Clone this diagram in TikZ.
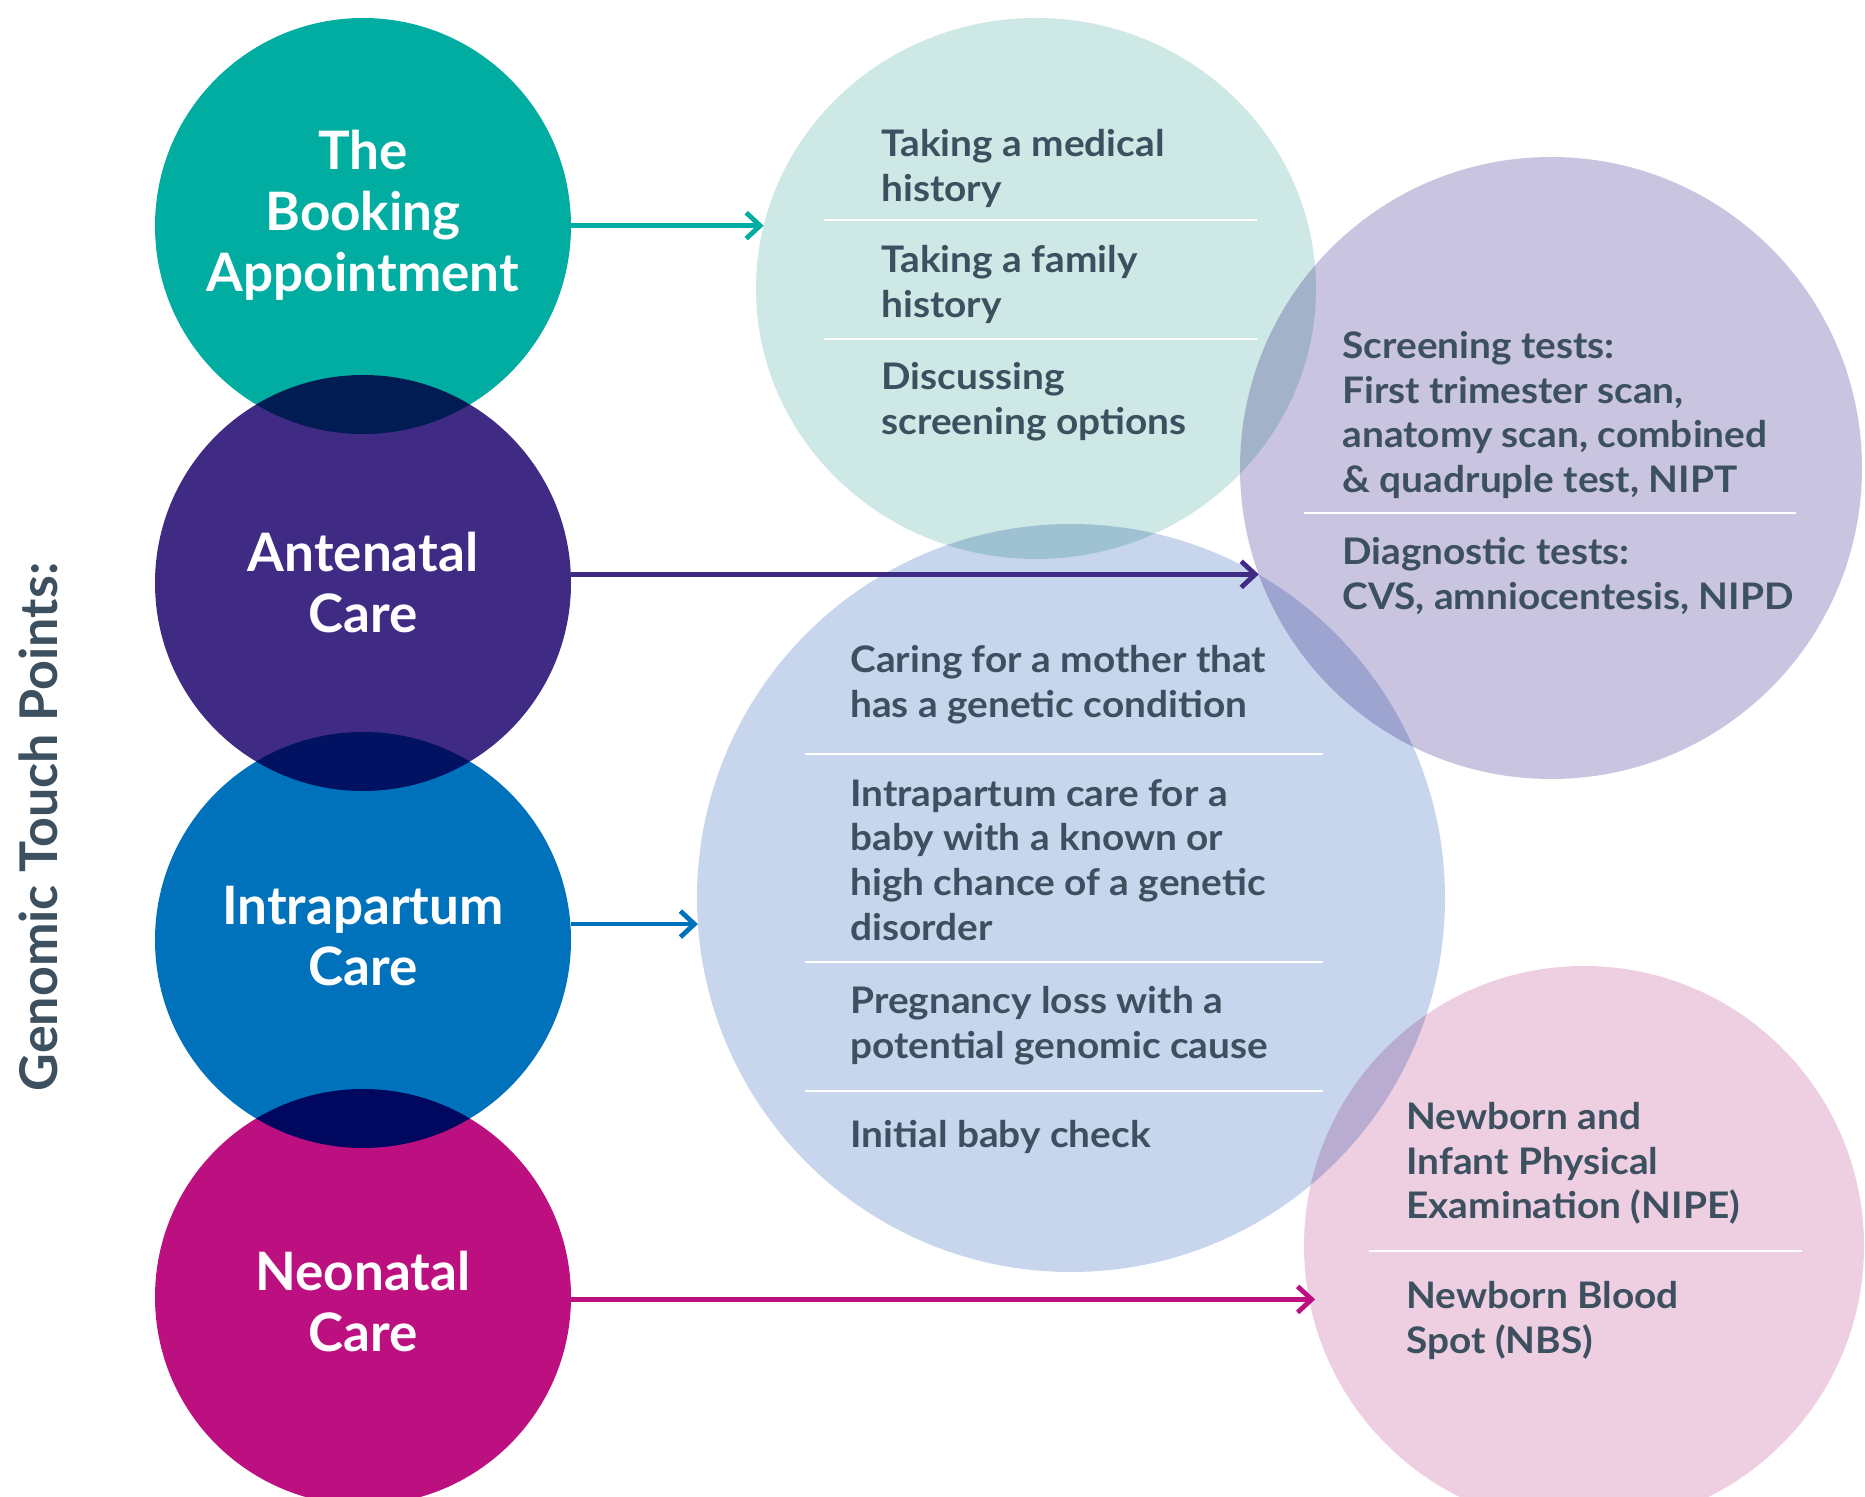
\documentclass[tikz,border=0pt]{standalone}
\usepackage{fontspec}
\setmainfont{Lato}
\newfontfamily\itemfont{Lato}[FakeStretch=1.06]
\usetikzlibrary{arrows.meta,positioning,shapes.geometric}

\definecolor{tealA}{RGB}{0,173,160}
\definecolor{purpA}{RGB}{63,42,132}
\definecolor{blueA}{RGB}{0,114,188}
\definecolor{pinkA}{RGB}{189,16,128}
\definecolor{tealL}{RGB}{205,232,229}
\definecolor{purpL}{RGB}{201,196,224}
\definecolor{blueL}{RGB}{199,214,236}
\definecolor{pinkL}{RGB}{237,207,225}
\definecolor{ink}{RGB}{61,80,96}

\begin{document}
\begin{tikzpicture}[x=0.5pt,y=-0.5pt,>={Straight Barb[length=7pt,width=13pt,line cap=butt,line join=miter]},node distance=178.5pt]
  \tikzstyle{touch}=[circle,inner sep=0pt,outer sep=0pt,minimum size=208pt]
  \tikzstyle{touch text}=[text=white,font=\bfseries\fontsize{26.5}{30.5}\selectfont,align=center]
  \tikzstyle{spot}=[circle,inner sep=0pt,outer sep=0pt]
  \tikzstyle{item}=[anchor=north west,inner sep=0pt,align=left,text=ink,font=\itemfont\bfseries\fontsize{18.3}{22.3}\selectfont]
  \tikzstyle{rule}=[white,line width=1pt]
  \tikzstyle{link}=[->,line width=2.4pt]

  \useasboundingbox (0,0) rectangle (1865,1497);
  \clip (0,0) rectangle (1865,1497);

  % circles, overlaps darken
  \begin{scope}[blend mode=multiply]
    \node[touch,fill=tealA] (book) at (363,226) {};
    \node[touch,fill=purpA] (ante) [below of=book] {};
    \node[touch,fill=blueA] (intra) [below of=ante] {};
    \node[touch,fill=pinkA] (neo) [below of=intra] {};

    \node[spot,ellipse,fill=tealL,minimum width=280pt,minimum height=270.5pt] (bookL) at (1036,288.5) {};
    \node[spot,fill=purpL,minimum size=311pt] (testL) at (1551,468) {};
    \node[spot,fill=blueL,minimum size=374pt] (careL) at (1071,898) {};
    \node[spot,fill=pinkL,minimum size=280pt] (babyL) at (1584,1246) {};
  \end{scope}

  \node[touch text] at ([yshift=5.5pt]book) {The\\Booking\\Appointment};
  \node[touch text] at (ante) {Antenatal\\Care};
  \node[touch text] at ([yshift=1.8pt]intra) {Intrapartum\\Care};
  \node[touch text] at ([yshift=-2.5pt]neo) {Neonatal\\Care};

  \node[rotate=90,text=ink,font=\bfseries\fontsize{26}{30}\selectfont] (title) at (38,827) {Genomic Touch Points:};

  \path[link] (bookL.167 -| book.east) edge[tealA] (bookL.167)
        (ante.east |- testL.200) edge[purpA] (testL.200)
        (intra.east |- careL.184) edge[blueA] (careL.184)
        (neo.east |- babyL.191) edge[pinkA] ([xshift=3pt]babyL.191);

  % dividers
  \draw[rule] (824,220) -- (1257,220) (824,339) -- (1257,339);
  \draw[rule] (1304,513) -- (1796,513);
  \draw[rule] (805,754) -- (1323,754) (805,962) -- (1323,962) (805,1091) -- (1323,1091);
  \draw[rule] (1369,1251) -- (1802,1251);

  \node[item] (med) at (881,129) {Taking a medical\\history};
  \node[item] (fam) at (881,245) {Taking a family\\history};
  \node[item] (opt) at (881,362) {Discussing\\screening options};

  \node[item] (scr) at (1342,331) {Screening tests:\\First trimester scan,\\anatomy scan, combined\\\& quadruple test, NIPT};
  \node[item] (diag) at (1342,537) {Diagnostic tests:\\CVS, amniocentesis, NIPD};

  \node[item] (mum) at (850,645) {Caring for a mother that\\has a genetic condition};
  \node[item] (labour) at (850,779) {Intrapartum care for a\\baby with a known or\\high chance of a genetic\\disorder};
  \node[item] (loss) at (850,986) {Pregnancy loss with a\\potential genomic cause};
  \node[item] (check) at (850,1120) {Initial baby check};

  \node[item] (nipe) at (1406,1102) {Newborn and\\Infant Physical\\Examination (NIPE)};
  \node[item] (nbs) at (1406,1281) {Newborn Blood\\Spot (NBS)};
\end{tikzpicture}
\end{document}
